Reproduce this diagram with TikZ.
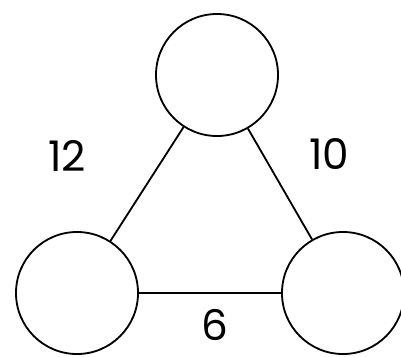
\documentclass[tikz,border=0pt]{standalone}
\usepackage{fontspec}
\setmainfont{Poppins}
\usetikzlibrary{positioning}

\begin{document}
\begin{tikzpicture}[
  x=0.025cm, y=-0.025cm,
  vert/.style={circle, draw=black, fill=white, line width=1.3pt, minimum size=3.05cm, inner sep=0pt},
  edge/.style={draw=black, line width=1.3pt},
  weight/.style={font=\fontsize{30}{34}\selectfont, inner sep=0pt},
]
  \useasboundingbox (0,0) rectangle (401,356);

  % vertices
  \node[vert] (top) at (217,75) {};
  \node[vert] (left) at (77,293) {};
  \node[vert] (right) at (343,293) {};

  % edges
  \draw[edge] (top) -- (left);
  \draw[edge] (top) -- (right);
  \draw[edge] (left) -- (right);

  % weights
  \node[weight] (w12) at (67,156) {12};
  \node[weight] (w10) at (329,154) {10};
  \node[weight] (w6) at (215,325) {6};
\end{tikzpicture}
\end{document}
